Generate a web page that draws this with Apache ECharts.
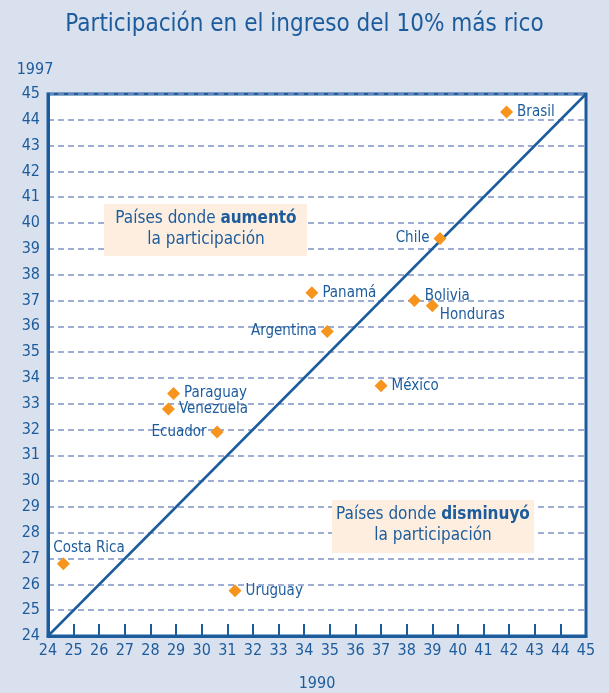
<!DOCTYPE html>
<html>
<head>
<meta charset="utf-8">
<script src="https://cdn.jsdelivr.net/npm/echarts@6/dist/echarts.min.js"></script>
<style>
  html, body { margin: 0; padding: 0; background: #d9e0ee; }
  #chart { width: 609px; height: 693px; }
</style>
</head>
<body>
<div id="chart"></div>
<script>
// paises, participacion 1990 (x) y 1997 (y)
const countries = ["Brasil", "Chile", "Panamá", "Bolivia", "Honduras", "Argentina", "México",
  "Paraguay", "Venezuela", "Ecuador", "Costa Rica", "Uruguay"];
const share1990 = [41.9, 39.3, 34.3, 38.3, 39.0, 34.9, 37.0, 28.9, 28.7, 30.6, 24.6, 31.3];
const share1997 = [44.3, 39.4, 37.3, 37.0, 36.8, 35.8, 33.7, 33.4, 32.8, 31.9, 26.8, 25.75];
const axisMin = 24;
const axisMax = 45;

// donde va cada etiqueta
const labelStyle = {
  "Brasil": { position: "right" },
  "Chile": { position: "left" },
  "Panamá": { position: "right" },
  "Bolivia": { position: "right", offset: [0, -4] },
  "Honduras": { position: "right", offset: [-3, 9] },
  "Argentina": { position: "left" },
  "México": { position: "right" },
  "Paraguay": { position: "right" },
  "Venezuela": { position: "right" },
  "Ecuador": { position: "left" },
  "Costa Rica": { position: "top", align: "left", offset: [-10, 2] },
  "Uruguay": { position: "right" }
};

const blue = "#1d5c9c";
const font = "'Liberation Sans Narrow', 'DejaVu Sans Condensed', sans-serif";

let myChart = echarts.init(document.getElementById("chart"));

let points = countries.map(function (c, i) {
  return { name: c, value: [share1990[i], share1997[i]], label: labelStyle[c] };
});

myChart.setOption({
  backgroundColor: "#d9e0ee",
  textStyle: { fontFamily: font },
  title: {
    text: "Participación en el ingreso del 10% más rico",
    left: "center",
    top: 8,
    textStyle: { color: blue, fontSize: 24, fontWeight: "normal", fontFamily: font }
  },
  grid: {
    left: 48,
    right: 23,
    top: 94,
    bottom: 57,
    outerBoundsMode: "none",
    show: true,
    backgroundColor: "#fff",
    borderColor: blue,
    borderWidth: 3
  },
  xAxis: {
    type: "value",
    min: axisMin,
    max: axisMax,
    interval: 1,
    name: "1990",
    nameLocation: "middle",
    nameGap: 40,
    nameTextStyle: { color: blue, fontSize: 16, fontFamily: font },
    axisLine: { show: true, lineStyle: { color: blue, width: 3 } },
    axisTick: { show: true, inside: true, length: 12, lineStyle: { color: blue, width: 2 } },
    axisLabel: { color: blue, fontSize: 16, margin: 7, fontFamily: font },
    splitLine: { show: false }
  },
  yAxis: {
    type: "value",
    min: axisMin,
    max: axisMax,
    interval: 1,
    name: "1997",
    nameLocation: "end",
    nameGap: 16,
    nameTextStyle: { color: blue, fontSize: 16, fontFamily: font, align: "center", padding: [0, 26, 0, 0] },
    axisLine: { show: true, lineStyle: { color: blue, width: 3 } },
    axisTick: { show: false },
    axisLabel: { color: blue, fontSize: 16, margin: 8, fontFamily: font },
    splitLine: { show: true, lineStyle: { type: [6, 4], color: "#7d92c6", width: 1.5 } }
  },
  series: [
    {
      type: "line",
      data: [[axisMin, axisMin], [axisMax, axisMax]],
      symbol: "none",
      silent: true,
      lineStyle: { color: blue, width: 2.5 },
      z: 3
    },
    {
      type: "scatter",
      data: points,
      symbol: "diamond",
      symbolSize: 13,
      itemStyle: { color: "#f7941d", opacity: 1 },
      label: {
        show: true,
        formatter: "{b}",
        color: blue,
        fontSize: 15,
        distance: 4,
        fontFamily: font
      },
      z: 4
    }
  ],
  graphic: [
    {
      type: "rect",
      shape: { x: 104, y: 204, width: 203, height: 52 },
      style: { fill: "#fdeee0" },
      z: 2
    },
    {
      type: "text",
      x: 206, y: 229,
      style: {
        text: "Países donde {b|aumentó}\nla participación",
        rich: { b: { fontWeight: "bold", fontSize: 17, fill: blue, fontFamily: font } },
        fill: blue, fontSize: 17, fontFamily: font,
        align: "center", verticalAlign: "middle", lineHeight: 21
      },
      z: 5
    },
    {
      type: "rect",
      shape: { x: 332, y: 500, width: 202, height: 53 },
      style: { fill: "#fdeee0" },
      z: 2
    },
    {
      type: "text",
      x: 433, y: 525,
      style: {
        text: "Países donde {b|disminuyó}\nla participación",
        rich: { b: { fontWeight: "bold", fontSize: 17, fill: blue, fontFamily: font } },
        fill: blue, fontSize: 17, fontFamily: font,
        align: "center", verticalAlign: "middle", lineHeight: 21
      },
      z: 5
    }
  ]
});

window.onresize = function () {
  myChart.resize();
};
</script>
</body>
</html>
